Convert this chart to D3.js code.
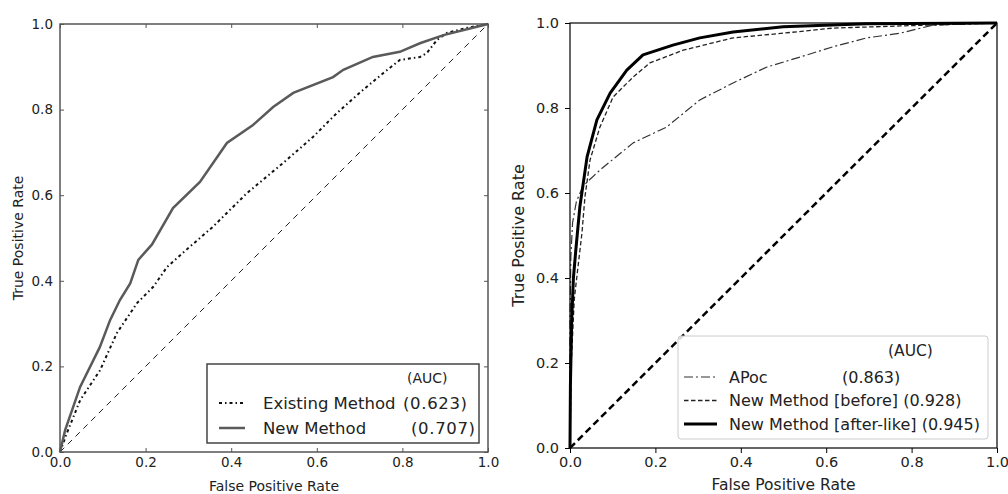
<!DOCTYPE html>
<html>
<head>
<meta charset="utf-8">
<script src="https://cdn.jsdelivr.net/npm/d3@7"></script>
<style>
  body { margin: 0; background: #fff; }
  svg { display: block; font-family: "DejaVu Sans", sans-serif; }
</style>
</head>
<body>
<svg id="chart" width="1008" height="494"></svg>
<script>
// tick values shared by both panels
const ticks = [0, 0.2, 0.4, 0.6, 0.8, 1.0];

// left panel: [fpr, tpr]
const existingMethod = [
  [0, 0], [0.016, 0.044], [0.047, 0.121], [0.093, 0.19], [0.133, 0.278],
  [0.18, 0.348], [0.218, 0.386], [0.25, 0.432], [0.297, 0.474], [0.357, 0.526],
  [0.437, 0.605], [0.521, 0.675], [0.591, 0.736], [0.647, 0.792], [0.708, 0.846],
  [0.755, 0.885], [0.794, 0.916], [0.841, 0.923], [0.857, 0.932], [0.881, 0.963],
  [0.904, 0.979], [0.951, 0.991], [1, 1]
];
const newMethod = [
  [0, 0], [0.012, 0.051], [0.047, 0.152], [0.093, 0.245], [0.117, 0.308],
  [0.14, 0.355], [0.164, 0.394], [0.183, 0.449], [0.215, 0.485], [0.264, 0.57],
  [0.327, 0.631], [0.39, 0.722], [0.451, 0.764], [0.498, 0.806], [0.545, 0.839],
  [0.638, 0.876], [0.662, 0.893], [0.731, 0.923], [0.794, 0.935], [0.841, 0.955],
  [0.896, 0.974], [1, 1]
];
const leftLabels = ["Existing Method", "New Method"];
const leftAuc = ["(0.623)", "(0.707)"];

// right panel: [fpr, tpr]
const apoc = [
  [0, 0], [0, 0.3], [0.002, 0.45], [0.006, 0.53], [0.015, 0.58], [0.031, 0.617],
  [0.07, 0.654], [0.148, 0.718], [0.226, 0.755], [0.304, 0.819], [0.382, 0.859],
  [0.46, 0.896], [0.539, 0.92], [0.616, 0.944], [0.695, 0.965], [0.773, 0.976],
  [0.85, 0.995], [1, 1]
];
const newBefore = [
  [0, 0], [0.003, 0.2], [0.01, 0.35], [0.018, 0.42], [0.028, 0.506],
  [0.035, 0.591], [0.047, 0.678], [0.07, 0.755], [0.101, 0.826], [0.148, 0.873],
  [0.187, 0.906], [0.265, 0.936], [0.382, 0.965], [0.499, 0.976], [0.616, 0.988],
  [0.773, 0.993], [1, 1]
];
const newAfter = [
  [0, 0], [0.001, 0.15], [0.004, 0.3], [0.008, 0.4], [0.014, 0.47],
  [0.023, 0.567], [0.04, 0.685], [0.063, 0.772], [0.094, 0.835], [0.133, 0.889],
  [0.171, 0.925], [0.241, 0.948], [0.304, 0.965], [0.382, 0.979], [0.499, 0.991],
  [0.695, 0.998], [1, 1]
];
const rightLabels = ["APoc", "New Method [before]", "New Method [after-like]"];
const rightAuc = ["(0.863)", "(0.928)", "(0.945)"];

const svg = d3.select("#chart");
const fmt = d3.format(".1f");

// ---------- left panel (classic style) ----------
const L = { x0: 60, x1: 488, y0: 24, y1: 452 };
const lx = d3.scaleLinear().domain([0, 1]).range([L.x0, L.x1]);
const ly = d3.scaleLinear().domain([0, 1]).range([L.y1, L.y0]);
const leftG = svg.append("g");

const lline = d3.line().x(d => lx(d[0])).y(d => ly(d[1]));

// inside ticks on all sides
leftG.append("g").attr("transform", `translate(0,${L.y1})`)
  .call(d3.axisBottom(lx).tickValues(ticks).tickFormat(fmt).tickSizeInner(-4).tickSizeOuter(0).tickPadding(5))
  .call(g => g.select(".domain").remove())
  .call(g => g.selectAll("line").attr("stroke", "#555"))
  .call(g => g.selectAll("text").attr("font-size", "13.5px").attr("fill", "#222").attr("font-family", "DejaVu Sans"));
leftG.append("g").attr("transform", `translate(0,${L.y0})`)
  .call(d3.axisTop(lx).tickValues(ticks).tickFormat("").tickSizeInner(-4).tickSizeOuter(0))
  .call(g => g.select(".domain").remove())
  .call(g => g.selectAll("line").attr("stroke", "#555"));
leftG.append("g").attr("transform", `translate(${L.x0},0)`)
  .call(d3.axisLeft(ly).tickValues(ticks).tickFormat(fmt).tickSizeInner(-4).tickSizeOuter(0).tickPadding(7))
  .call(g => g.select(".domain").remove())
  .call(g => g.selectAll("line").attr("stroke", "#555"))
  .call(g => g.selectAll("text").attr("font-size", "13.5px").attr("fill", "#222").attr("font-family", "DejaVu Sans"));
leftG.append("g").attr("transform", `translate(${L.x1},0)`)
  .call(d3.axisRight(ly).tickValues(ticks).tickFormat("").tickSizeInner(-4).tickSizeOuter(0))
  .call(g => g.select(".domain").remove())
  .call(g => g.selectAll("line").attr("stroke", "#555"));

// diagonal
leftG.append("path").datum([[0, 0], [1, 1]])
  .attr("d", lline).attr("fill", "none")
  .attr("stroke", "#222").attr("stroke-width", 1).attr("stroke-dasharray", "6,5");

leftG.append("path").datum(existingMethod)
  .attr("d", lline).attr("fill", "none")
  .attr("stroke", "#111").attr("stroke-width", 2).attr("stroke-dasharray", "3,3,1.5,3");

leftG.append("path").datum(newMethod)
  .attr("d", lline).attr("fill", "none")
  .attr("stroke", "#5a5a5a").attr("stroke-width", 2.5);

// frame
leftG.append("rect")
  .attr("x", L.x0).attr("y", L.y0).attr("width", L.x1 - L.x0).attr("height", L.y1 - L.y0)
  .attr("fill", "none").attr("stroke", "#555").attr("stroke-width", 1.5);

// legend
const leftLeg = leftG.append("g");
leftLeg.append("rect")
  .attr("x", 207).attr("y", 364).attr("width", 272).attr("height", 79)
  .attr("fill", "#fff").attr("stroke", "#444").attr("stroke-width", 1.5);
leftLeg.append("text").attr("x", 407).attr("y", 383)
  .attr("font-size", "14px").attr("fill", "#222").text("(AUC)");
const leftStyles = [
  { stroke: "#111", width: 2, dash: "3,3,1.5,3" },
  { stroke: "#5a5a5a", width: 2.5, dash: null }
];
const leftAucX = [403, 411];
leftLabels.forEach((lab, i) => {
  const yy = 403 + i * 25;
  leftLeg.append("line").attr("x1", 219).attr("x2", 245).attr("y1", yy).attr("y2", yy)
    .attr("stroke", leftStyles[i].stroke).attr("stroke-width", leftStyles[i].width)
    .attr("stroke-dasharray", leftStyles[i].dash);
  leftLeg.append("text").attr("x", 263).attr("y", yy + 6)
    .attr("font-size", "16.5px").attr("fill", "#222").text(lab);
  leftLeg.append("text").attr("x", leftAucX[i]).attr("y", yy + 6)
    .attr("font-size", "16.5px").attr("fill", "#222").attr("textLength", 64).text(leftAuc[i]);
});

// axis labels
leftG.append("text").attr("x", (L.x0 + L.x1) / 2).attr("y", 491).attr("text-anchor", "middle")
  .attr("font-size", "14px").attr("fill", "#222").text("False Positive Rate");
leftG.append("text").attr("transform", `translate(23,${(L.y0 + L.y1) / 2}) rotate(-90)`)
  .attr("text-anchor", "middle").attr("font-size", "14px").attr("fill", "#222").text("True Positive Rate");

// ---------- right panel ----------
const R = { x0: 570, x1: 997, y0: 23, y1: 448 };
const rx = d3.scaleLinear().domain([0, 1]).range([R.x0, R.x1]);
const ry = d3.scaleLinear().domain([0, 1]).range([R.y1, R.y0]);
const rightG = svg.append("g");
const rline = d3.line().x(d => rx(d[0])).y(d => ry(d[1]));

rightG.append("g").attr("transform", `translate(0,${R.y1})`)
  .call(d3.axisBottom(rx).tickValues(ticks).tickFormat(fmt).tickSizeInner(5).tickSizeOuter(0).tickPadding(4))
  .call(g => g.select(".domain").remove())
  .call(g => g.selectAll("text").attr("font-size", "14.5px").attr("fill", "#222").attr("font-family", "DejaVu Sans"));
rightG.append("g").attr("transform", `translate(${R.x0},0)`)
  .call(d3.axisLeft(ry).tickValues(ticks).tickFormat(fmt).tickSizeInner(5).tickSizeOuter(0).tickPadding(6))
  .call(g => g.select(".domain").remove())
  .call(g => g.selectAll("text").attr("font-size", "14.5px").attr("fill", "#222").attr("font-family", "DejaVu Sans"));

rightG.append("path").datum([[0, 0], [1, 1]])
  .attr("d", rline).attr("fill", "none")
  .attr("stroke", "#000").attr("stroke-width", 2.5).attr("stroke-dasharray", "7,4");

const rightStyles = [
  { stroke: "#333", width: 1.2, dash: "9,3,2,3" },
  { stroke: "#222", width: 1.3, dash: "4.5,2.5" },
  { stroke: "#000", width: 3, dash: null }
];
[apoc, newBefore, newAfter].forEach((s, i) => {
  rightG.append("path").datum(s)
    .attr("d", rline).attr("fill", "none")
    .attr("stroke", rightStyles[i].stroke).attr("stroke-width", rightStyles[i].width)
    .attr("stroke-dasharray", rightStyles[i].dash)
    .attr("stroke-linejoin", "round");
});

rightG.append("rect")
  .attr("x", R.x0).attr("y", R.y0).attr("width", R.x1 - R.x0).attr("height", R.y1 - R.y0)
  .attr("fill", "none").attr("stroke", "#000").attr("stroke-width", 1.2);

const rightLeg = rightG.append("g");
rightLeg.append("rect")
  .attr("x", 678).attr("y", 336).attr("width", 310).attr("height", 103).attr("rx", 3)
  .attr("fill", "#fff").attr("fill-opacity", 0.85).attr("stroke", "#ccc").attr("stroke-width", 1);
rightLeg.append("text").attr("x", 888).attr("y", 356)
  .attr("font-size", "15.5px").attr("fill", "#222").text("(AUC)");
rightLabels.forEach((lab, i) => {
  const yy = 377 + i * 23.5;
  rightLeg.append("line").attr("x1", 684).attr("x2", 717).attr("y1", yy).attr("y2", yy)
    .attr("stroke", rightStyles[i].stroke).attr("stroke-width", rightStyles[i].width)
    .attr("stroke-dasharray", rightStyles[i].dash);
  rightLeg.append("text").attr("x", 729).attr("y", yy + 5.5)
    .attr("font-size", "16px").attr("fill", "#222")
    .text(i === 0 ? lab : lab + " " + rightAuc[i]);
  if (i === 0) {
    rightLeg.append("text").attr("x", 842).attr("y", yy + 5.5)
      .attr("font-size", "16px").attr("fill", "#222").text(rightAuc[i]);
  }
});

rightG.append("text").attr("x", (R.x0 + R.x1) / 2).attr("y", 490).attr("text-anchor", "middle")
  .attr("font-size", "15.5px").attr("fill", "#222").text("False Positive Rate");
rightG.append("text").attr("transform", `translate(524,${(R.y0 + R.y1) / 2}) rotate(-90)`)
  .attr("text-anchor", "middle").attr("font-size", "16px").attr("fill", "#222").text("True Positive Rate");
</script>
</body>
</html>
